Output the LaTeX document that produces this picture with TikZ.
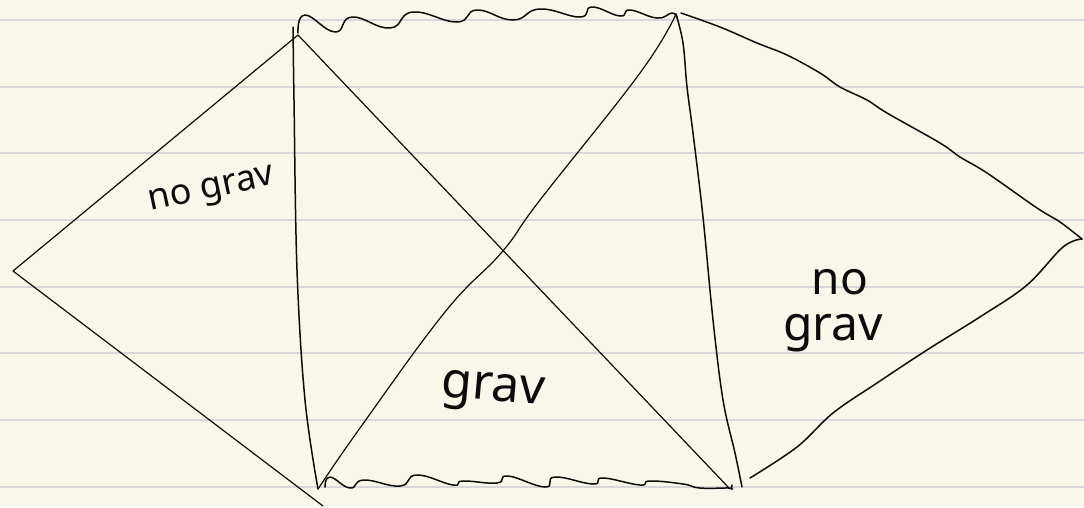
\documentclass[tikz,border=0pt]{standalone}
\usepackage{fontspec}
\setmainfont{Noto Sans}
\definecolor{paper}{RGB}{249,247,233}
\definecolor{rule}{RGB}{214,215,216}
\definecolor{ink}{RGB}{12,12,12}
\begin{document}
\begin{tikzpicture}[x=1pt,y=-1pt,
  ink/.style={draw=ink,line width=1.5pt,line cap=round,line join=round},
  thin ink/.style={draw=ink,line width=1.2pt,line cap=round,line join=round},
  ruled/.style={draw=rule,line width=1.6pt},
  hand/.style={text=ink,inner sep=0pt,font=\fontsize{#1}{#1}\selectfont},
  hand/.default=30]
\useasboundingbox (0,0) rectangle (1084,507);
\fill[paper] (0,0) rectangle (1084,507);
% ruled lines
\foreach \y in {20,87,153,220,287,353,420,487}
  \draw[ruled] (0,\y) -- (1084,\y);

% vertices
\coordinate (L) at (13,271);
\coordinate (TL) at (298,35);
\coordinate (LB) at (323,506);
\coordinate (VT) at (293,27);
\coordinate (BL) at (318,489);
\coordinate (TR) at (676,14);
\coordinate (BR) at (729,488);
\coordinate (RB) at (742,487);
\coordinate (R) at (1082,239);
\coordinate (RS) at (750,478);
\coordinate (RT) at (681,13);

% left diamond
\draw[thin ink] (LB) -- (L) -- (TL);

% left vertical
\draw[ink] plot[smooth,tension=0.6] coordinates {(VT) (294,100) (297,270) (305,400) (BL)};

% right vertical
\draw[ink] plot[smooth,tension=0.6] coordinates {(TR) (683,43) (687,87) (693,133) (703,217) (713,320) (723,400) (735,453) (RB)};

% diagonals
\draw[thin ink] (TL) -- (BR);
\draw[thin ink] plot[smooth,tension=0.7] coordinates {(BL) (360,428) (445,312) (502,252) (540,200) (640,73) (TR)};

% top wavy boundary
\draw[ink] plot[smooth,tension=0.8] coordinates {(298,33) (305,15) (335,32) (352,17) (390,28) (413,12) (457,22) (477,10) (513,20) (540,9) (580,17) (592,7) (620,16) (630,10) (657,18) (672,13) (677,18)};

% bottom wavy boundary
\draw[ink] plot[smooth,tension=0.8] coordinates {(325,487) (330,477) (350,488) (364,480) (400,486) (417,475) (453,485) (463,481) (497,483) (508,476) (545,487) (555,477) (593,484) (603,478) (640,485) (650,481) (683,484) (700,488) (BR) (731,489) (732,485)};

% right curves
\draw[ink] plot[smooth,tension=0.6] coordinates {(RT) (720,27) (757,43) (787,55) (820,73) (840,87) (867,100) (887,113) (940,143) (960,157) (987,173) (1037,208) (1060,222) (R)};
\draw[ink] plot[smooth,tension=0.6] coordinates {(R) (1063,247) (1027,285) (983,315) (927,350) (877,383) (833,413) (797,447) (RS)};

% labels
\node[hand=36,rotate=12] (lbl1) at (212,192) {no grav};
\node[hand=50,rotate=-5] (lbl2) at (493,393) {grav};
\node[hand=46] (lbl3) at (840,282) {no};
\node[hand=48] (lbl4) at (833,333) {grav};
\end{tikzpicture}
\end{document}
